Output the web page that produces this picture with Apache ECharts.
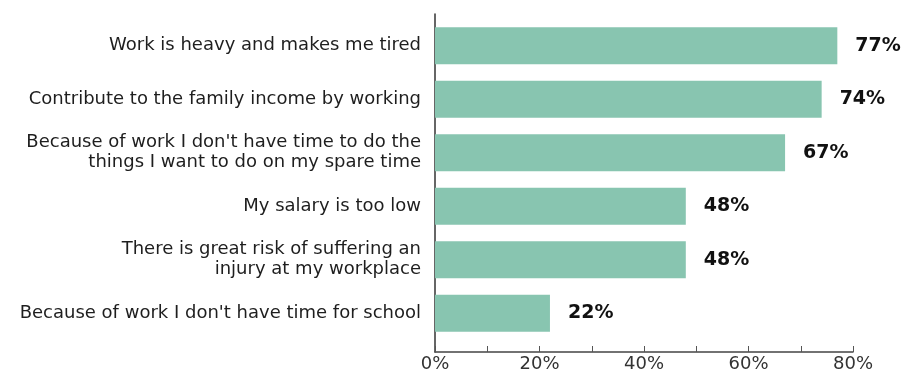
<!DOCTYPE html>
<html>
<head>
<meta charset="utf-8">
<script src="https://cdn.jsdelivr.net/npm/echarts@6/dist/echarts.min.js"></script>
<style>
  html, body { margin: 0; padding: 0; background: #fff; }
  #chart { width: 903px; height: 369px; }
</style>
</head>
<body>
<div id="chart"></div>
<script>
// Reasons given by working children (share of respondents, %)
const categories = [
  'Work is heavy and makes me tired',
  'Contribute to the family income by working',
  "Because of work I don't have time to do the\nthings I want to do on my spare time",
  'My salary is too low',
  'There is great risk of suffering an\ninjury at my workplace',
  "Because of work I don't have time for school"
];
const values = [77, 74, 67, 48, 48, 22];
const xTicks = [0, 20, 40, 60, 80];

const FONT = '"DejaVu Sans", sans-serif';
const chart = echarts.init(document.getElementById('chart'), null, { renderer: 'canvas' });

chart.setOption({
  animation: false,
  backgroundColor: '#ffffff',
  grid: [
    // bar area
    { left: 435, right: 50, top: 19, height: 321, outerBoundsMode: 'none' },
    // frame with the axis lines, slightly taller than the bar area
    { left: 435, right: 50, top: 14, bottom: 17, outerBoundsMode: 'none' }
  ],
  xAxis: [
    { gridIndex: 0, type: 'value', min: 0, max: 80, show: false },
    {
      gridIndex: 1, type: 'value', min: 0, max: 80, interval: 10,
      axisLine: { show: true, lineStyle: { color: '#444', width: 1.5 } },
      axisTick: { show: true, inside: true, length: 6, lineStyle: { color: '#555' } },
      splitLine: { show: false },
      axisLabel: {
        color: '#333', fontFamily: FONT, fontSize: 18, margin: 3,
        formatter: v => (xTicks.indexOf(v) >= 0 ? v + '%' : '')
      }
    }
  ],
  yAxis: [
    {
      gridIndex: 0, type: 'category', data: categories, inverse: true,
      axisLine: { show: false }, axisTick: { show: false },
      axisLabel: {
        color: '#1e1e1e', fontFamily: FONT, fontSize: 18, margin: 14,
        align: 'right', lineHeight: 20
      }
    },
    {
      gridIndex: 1, type: 'value', min: 0, max: 1,
      axisLine: { show: true, lineStyle: { color: '#333', width: 1.5 } },
      axisTick: { show: false }, axisLabel: { show: false }, splitLine: { show: false }
    }
  ],
  series: [{
    type: 'bar',
    xAxisIndex: 0, yAxisIndex: 0,
    data: values,
    barWidth: 37,
    itemStyle: { color: '#88c5b0' },
    label: {
      show: true, position: 'right', distance: 18,
      formatter: p => p.value + '%',
      color: '#111', fontFamily: FONT, fontSize: 19, fontWeight: 'bold'
    }
  }]
});
</script>
</body>
</html>
